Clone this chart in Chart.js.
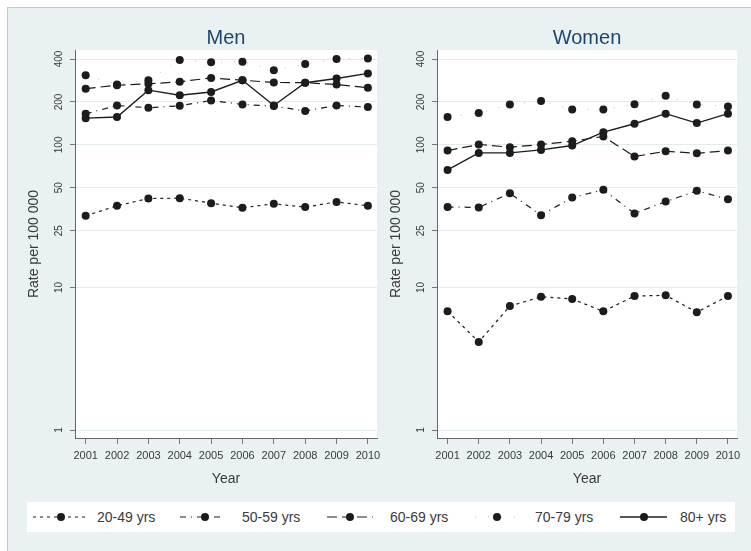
<!DOCTYPE html>
<html>
<head>
<meta charset="utf-8">
<script src="https://cdn.jsdelivr.net/npm/chart.js@4.4.1/dist/chart.umd.min.js"></script>
<style>
  body {
    margin: 0;
    width: 751px;
    height: 551px;
    overflow: hidden;
    background: #fff;
    font-family: "Liberation Sans", Arial, sans-serif;
  }
  #frame {
    position: absolute;
    left: 7px;
    top: 7px;
    width: 760px;
    height: 560px;
    background: #e9f1f3;
    border: 1px solid #c3cbcf;
  }
  canvas {
    position: absolute;
  }
  #men {
    left: 10px;
    top: 15px;
  }
  #women {
    left: 372px;
    top: 15px;
  }
  #legend {
    position: absolute;
    left: 27px;
    top: 502px;
  }
</style>
</head>
<body>
<div id="frame"></div>
<canvas id="men" width="380" height="480"></canvas>
<canvas id="women" width="378" height="480"></canvas>
<svg id="legend" width="708" height="30" xmlns="http://www.w3.org/2000/svg"></svg>

<script>
const years = [2001, 2002, 2003, 2004, 2005, 2006, 2007, 2008, 2009, 2010];
const yTicks = [1, 10, 25, 50, 100, 200, 400];
const ageGroups = ["20-49 yrs", "50-59 yrs", "60-69 yrs", "70-79 yrs", "80+ yrs"];

// rates per 100 000
const men20 = [31.8, 37.4, 42.0, 42.3, 39.0, 36.2, 38.6, 36.6, 39.8, 37.4];
const men50 = [165, 189, 182, 188, 205, 192, 187, 173, 189, 184];
const men60 = [248, 262, 268, 277, 295, 284, 274, 273, 265, 252];
const men70 = [308, 265, 284, 394, 379, 383, 334, 369, 400, 404];
const men80 = [154, 157, 242, 223, 235, 284, 189, 273, 292, 317];

const women20 = [6.8, 4.15, 7.4, 8.6, 8.3, 6.8, 8.7, 8.8, 6.7, 8.7];
const women50 = [36.7, 36.4, 45.8, 32.1, 42.7, 48.4, 33.0, 40.0, 47.6, 41.6];
const women60 = [91.2, 100.6, 96.3, 100.6, 106.2, 114.6, 82.8, 90.2, 87.3, 91.2];
const women70 = [157, 167, 192, 203, 177, 177, 193, 221, 192, 186];
const women80 = [66.7, 87.8, 87.8, 92.2, 98.9, 122.8, 140.6, 165.5, 142.2, 165.5];

const fontFamily = '"Liberation Sans", Arial, sans-serif';
const ink = "#1c1c1c";
const textGray = "#3a3a3a";

const lineStyles = [
  { color: ink, dash: [3, 4], width: 1.2 },
  { color: ink, dash: [6, 5, 1, 5], width: 1.2 },
  { color: ink, dash: [10, 5], width: 1.2 },
  { color: "#b9b9b9", dash: [1, 12], width: 1 },
  { color: ink, dash: [], width: 1.4 },
];

const plotBackground = {
  id: "plotBackground",
  beforeDraw: (chart) => {
    const { ctx, chartArea } = chart;
    ctx.save();
    ctx.fillStyle = "#ffffff";
    ctx.fillRect(chartArea.left, chartArea.top, chartArea.right - chartArea.left, chartArea.bottom - chartArea.top);
    ctx.restore();
  },
};

const buildPanel = (canvasId, title, series) => {
  const canvas = document.getElementById(canvasId);
  if (!canvas || !window.Chart) {
    return;
  }

  new Chart(canvas, {
    type: "line",
    data: {
      datasets: series.map((values, i) => ({
        label: ageGroups[i],
        data: years.map((year, j) => ({ x: year, y: values[j] })),
        borderColor: lineStyles[i].color,
        borderDash: lineStyles[i].dash,
        borderWidth: lineStyles[i].width,
        pointBackgroundColor: ink,
        pointBorderColor: ink,
        pointBorderWidth: 0,
        pointRadius: 4,
        tension: 0,
      })),
    },
    options: {
      animation: false,
      devicePixelRatio: 1,
      responsive: false,
      layout: {
        padding: { left: 0, right: 13, top: 0, bottom: 0 },
      },
      plugins: {
        legend: { display: false },
        tooltip: { enabled: false },
        title: {
          display: true,
          text: title,
          fullSize: false,
          color: "#1a476f",
          font: { family: fontFamily, size: 20, weight: "normal" },
          padding: { top: 11, bottom: 0 },
        },
      },
      scales: {
        x: {
          type: "linear",
          min: 2000.66,
          max: 2010.29,
          afterBuildTicks: (scale) => {
            scale.ticks = years.map((value) => ({ value }));
          },
          afterFit: (scale) => {
            scale.height = 57;
            scale.paddingLeft = 0;
            scale.paddingRight = 0;
          },
          ticks: {
            autoSkip: false,
            callback: (value) => String(value),
            color: textGray,
            font: { family: fontFamily, size: 11 },
            maxRotation: 0,
            padding: 5,
          },
          grid: {
            drawOnChartArea: false,
            tickColor: "#777",
            tickLength: 6,
          },
          border: { color: "#666", width: 1 },
          title: {
            display: true,
            text: "Year",
            color: textGray,
            font: { family: fontFamily, size: 14 },
            padding: { top: 0, bottom: 7 },
          },
        },
        y: {
          type: "logarithmic",
          min: 0.879,
          max: 462.8,
          afterBuildTicks: (scale) => {
            scale.ticks = yTicks.map((value) => ({ value }));
          },
          afterFit: (scale) => {
            scale.width = 65;
            scale.paddingTop = 0;
            scale.paddingBottom = 0;
          },
          ticks: {
            autoSkip: false,
            callback: (value) => String(value),
            color: textGray,
            crossAlign: "center",
            font: { family: fontFamily, size: 10 },
            maxRotation: 90,
            minRotation: 90,
            padding: 2,
          },
          grid: {
            color: "#e2ebee",
            tickColor: "#777",
            tickLength: 5,
          },
          border: { color: "#666", width: 1 },
          title: {
            display: true,
            text: "Rate per 100 000",
            color: textGray,
            font: { family: fontFamily, size: 14 },
            padding: { top: 16, bottom: 0 },
          },
        },
      },
    },
    plugins: [plotBackground],
  });
};

buildPanel("men", "Men", [men20, men50, men60, men70, men80]);
buildPanel("women", "Women", [women20, women50, women60, women70, women80]);

// legend: sample line, marker and label for each age group
const legendSlots = [
  { x1: 6, x2: 60, mark: 34, text: 70 },
  { x1: 153, x2: 198, mark: 178, text: 215 },
  { x1: 300, x2: 346, mark: 323, text: 363 },
  { x1: 448, x2: 494, mark: 470, text: 508 },
  { x1: 593, x2: 640, mark: 617, text: 653 },
];

const legend = document.getElementById("legend");
const svgNs = "http://www.w3.org/2000/svg";
const rect = document.createElementNS(svgNs, "rect");
rect.setAttribute("width", "708");
rect.setAttribute("height", "30");
rect.setAttribute("fill", "#ffffff");
legend.appendChild(rect);

ageGroups.forEach((label, i) => {
  const slot = legendSlots[i];
  const style = lineStyles[i];

  const line = document.createElementNS(svgNs, "line");
  line.setAttribute("x1", slot.x1);
  line.setAttribute("x2", slot.x2);
  line.setAttribute("y1", 15);
  line.setAttribute("y2", 15);
  line.setAttribute("stroke", style.color);
  line.setAttribute("stroke-width", style.width);
  if (style.dash.length) {
    line.setAttribute("stroke-dasharray", style.dash.join(" "));
  }
  legend.appendChild(line);

  const dot = document.createElementNS(svgNs, "circle");
  dot.setAttribute("cx", slot.mark);
  dot.setAttribute("cy", 15);
  dot.setAttribute("r", 4);
  dot.setAttribute("fill", ink);
  legend.appendChild(dot);

  const text = document.createElementNS(svgNs, "text");
  text.setAttribute("x", slot.text);
  text.setAttribute("y", 20);
  text.setAttribute("fill", textGray);
  text.setAttribute("font-size", "14");
  text.setAttribute("font-family", fontFamily);
  text.textContent = label;
  legend.appendChild(text);
});
</script>
</body>
</html>
